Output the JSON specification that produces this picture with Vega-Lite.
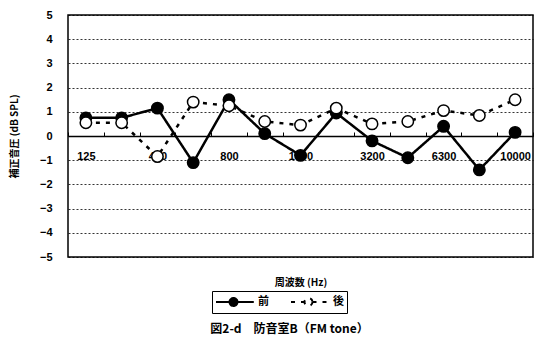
{
  "$schema": "https://vega.github.io/schema/vega-lite/v6.json",
  "width": 465,
  "height": 242,
  "autosize": "none",
  "padding": {"left": 68, "top": 15, "right": 12, "bottom": 92},
  "background": "white",
  "config": {
    "view": {"stroke": "black", "strokeWidth": 1.5},
    "font": "Liberation Sans",
    "legend": {
      "orient": "none",
      "direction": "horizontal",
      "legendX": 144,
      "legendY": 276,
      "strokeColor": "black",
      "padding": 3,
      "columnPadding": 18,
      "symbolType": "M-1,0H0.93M2.07,0H4.4M2.07,0A0.57,0.57 0 1,1 0.93,0A0.57,0.57 0 1,1 2.07,0",
      "symbolSize": 196,
      "symbolStrokeColor": "black",
      "symbolStrokeWidth": 2,
      "symbolOpacity": 1,
      "labelFont": "Noto Sans CJK JP",
      "labelFontSize": 11,
      "labelFontWeight": "bold",
      "labelColor": "black",
      "labelOffset": 27
    }
  },
  "title": {
    "text": "図2-d　防音室B（FM tone）",
    "orient": "bottom",
    "anchor": "middle",
    "font": "Noto Sans CJK JP",
    "fontSize": 12,
    "fontWeight": "bold",
    "color": "black",
    "offset": 10,
    "dx": -11
  },
  "data": {
    "values": [
      {"f": "125", "series": "前", "v": 0.75},
      {"f": "250", "series": "前", "v": 0.75},
      {"f": "400", "series": "前", "v": 1.15},
      {"f": "500", "series": "前", "v": -1.1},
      {"f": "800", "series": "前", "v": 1.5},
      {"f": "1000", "series": "前", "v": 0.1},
      {"f": "1600", "series": "前", "v": -0.8},
      {"f": "2000", "series": "前", "v": 0.95},
      {"f": "3200", "series": "前", "v": -0.2},
      {"f": "4000", "series": "前", "v": -0.9},
      {"f": "6300", "series": "前", "v": 0.4},
      {"f": "8000", "series": "前", "v": -1.4},
      {"f": "10000", "series": "前", "v": 0.15},
      {"f": "125", "series": "後", "v": 0.55},
      {"f": "250", "series": "後", "v": 0.55},
      {"f": "400", "series": "後", "v": -0.85},
      {"f": "500", "series": "後", "v": 1.4},
      {"f": "800", "series": "後", "v": 1.25},
      {"f": "1000", "series": "後", "v": 0.6},
      {"f": "1600", "series": "後", "v": 0.45},
      {"f": "2000", "series": "後", "v": 1.15},
      {"f": "3200", "series": "後", "v": 0.5},
      {"f": "4000", "series": "後", "v": 0.6},
      {"f": "6300", "series": "後", "v": 1.05},
      {"f": "8000", "series": "後", "v": 0.85},
      {"f": "10000", "series": "後", "v": 1.5}
    ]
  },
  "encoding": {
    "x": {
      "field": "f",
      "type": "ordinal",
      "sort": ["125","250","400","500","800","1000","1600","2000","3200","4000","6300","8000","10000"],
      "scale": {"type": "band", "paddingInner": 0, "paddingOuter": 0},
      "axis": {
        "orient": "bottom",
        "offset": -121,
        "tickBand": "extent",
        "domainColor": "black",
        "domainWidth": 1.5,
        "tickColor": "black",
        "tickSize": -4,
        "labelPadding": 18,
        "labelAngle": 0,
        "labelOverlap": false,
        "labelExpr": "indexof(['125','400','800','1600','3200','6300','10000'], datum.value) >= 0 ? datum.value : ''",
        "labelFontSize": 11,
        "labelFontWeight": "bold",
        "labelColor": "black",
        "title": "周波数 (Hz)",
        "titleFont": "Noto Sans CJK JP",
        "titleFontSize": 10,
        "titleFontWeight": "bold",
        "titleColor": "black",
        "titleY": 146,
        "titleBaseline": "middle"
      }
    },
    "y": {
      "field": "v",
      "type": "quantitative",
      "scale": {"domain": [-5, 5], "nice": false},
      "axis": {
        "values": [-5, -4, -3, -2, -1, 0, 1, 2, 3, 4, 5],
        "grid": true,
        "gridColor": "black",
        "gridDash": [2, 2],
        "gridWidth": 0.8,
        "domain": false,
        "ticks": false,
        "labelPadding": 16,
        "labelFontSize": 11,
        "labelFontWeight": "bold",
        "labelColor": "black",
        "title": "補正音圧 (dB SPL)",
        "titleFont": "Noto Sans CJK JP",
        "titleFontSize": 10,
        "titleFontWeight": "bold",
        "titleColor": "black",
        "titleX": -54,
        "titleY": 121,
        "titleBaseline": "middle"
      }
    }
  },
  "layer": [
    {
      "mark": {"type": "line", "color": "black", "strokeWidth": 2.5},
      "encoding": {
        "strokeDash": {
          "field": "series",
          "type": "nominal",
          "scale": {"domain": ["前", "後"], "range": [[1, 0], [4, 6]]},
          "legend": {"title": null}
        }
      }
    },
    {
      "mark": {"type": "point", "filled": false, "size": 130, "stroke": "black", "strokeWidth": 1.5, "opacity": 1},
      "encoding": {
        "fill": {
          "field": "series",
          "type": "nominal",
          "scale": {"domain": ["前", "後"], "range": ["black", "white"]},
          "legend": {"title": null}
        }
      }
    }
  ]
}
